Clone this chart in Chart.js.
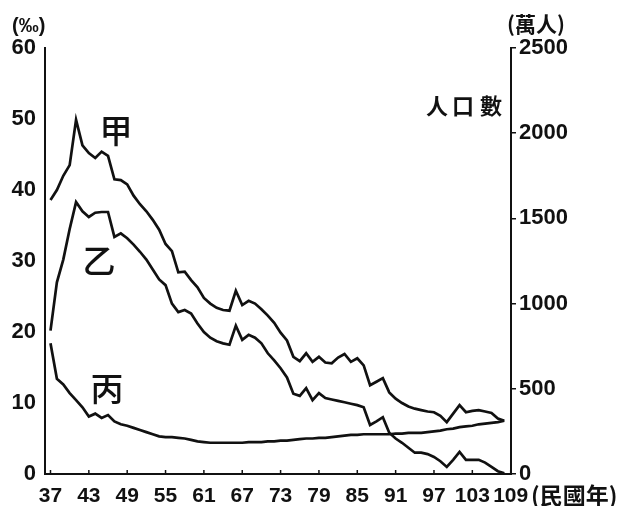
<!DOCTYPE html>
<html>
<head>
<meta charset="utf-8">
<script src="https://cdn.jsdelivr.net/npm/chart.js@4.4.1/dist/chart.umd.min.js"></script>
<style>
  html, body { margin: 0; padding: 0; background: #fff; }
  #wrap { width: 624px; height: 506px; }
</style>
</head>
<body>
<div id="wrap"><canvas id="canvas" width="624" height="506"></canvas></div>
<script>
// 年份（民國）
var years = [37,38,39,40,41,42,43,44,45,46,47,48,49,50,51,52,53,54,55,56,57,58,59,60,61,62,63,64,65,66,67,68,69,70,71,72,
  73,74,75,76,77,78,79,80,81,82,83,84,85,86,87,88,89,90,91,92,93,94,95,96,97,98,99,100,101,102,103,104,105,106,107,108];

// 甲（‰）
var seriesA = [38.6,40.0,42.0,43.5,49.9,46.3,45.2,44.5,45.4,44.8,41.5,41.4,40.8,39.2,38.0,37.0,35.8,34.4,32.4,31.4,28.4,28.5,27.3,26.3,
  24.8,24.0,23.4,23.1,23.0,25.8,23.8,24.4,24.0,23.2,22.3,21.3,19.9,18.8,16.5,15.9,17.0,15.8,16.5,15.7,15.6,16.4,16.9,15.8,
  16.3,15.3,12.5,13.0,13.5,11.5,10.6,10.0,9.5,9.2,9.0,8.8,8.7,8.2,7.3,8.5,9.7,8.7,8.9,9.0,8.8,8.6,7.8,7.5];

// 乙（‰）
var seriesB = [20.2,27.0,30.2,34.5,38.3,37.0,36.2,36.8,36.9,36.9,33.4,33.9,33.2,32.3,31.3,30.2,28.8,27.4,26.6,24.0,22.8,23.1,22.6,21.2,
  20.0,19.2,18.7,18.4,18.2,20.9,18.9,19.6,19.2,18.4,17.0,16.0,14.9,13.6,11.3,11.0,12.1,10.4,11.4,10.7,10.5,10.3,10.1,9.9,
  9.7,9.4,6.9,7.4,8.0,5.8,5.0,4.4,3.7,3.0,3.0,2.8,2.4,1.8,1.0,2.0,3.1,2.0,2.0,2.0,1.6,1.0,0.4,0.1];

// 丙（‰）
var seriesC = [18.4,13.4,12.6,11.4,10.4,9.4,8.1,8.5,7.9,8.3,7.4,7.0,6.8,6.5,6.2,5.9,5.6,5.3,5.2,5.2,5.1,5.0,4.8,4.6,
  4.5,4.4,4.4,4.4,4.4,4.4,4.4,4.5,4.5,4.5,4.6,4.6,4.7,4.7,4.8,4.9,5.0,5.0,5.1,5.1,5.2,5.3,5.4,5.5,
  5.5,5.6,5.6,5.6,5.6,5.6,5.7,5.7,5.8,5.8,5.8,5.9,6.0,6.1,6.3,6.4,6.6,6.7,6.8,7.0,7.1,7.2,7.3,7.5];

// 軸の目盛り
var xTicks = [37,43,49,55,61,67,73,79,85,91,97,103,109];
var leftTicks = [0,10,20,30,40,50,60];
var rightTicks = [0,500,1000,1500,2000,2500];

var numFont = { family: "'Liberation Sans', Arial, sans-serif", size: 22, weight: 'bold' };
var xFont = { family: "'Liberation Sans', Arial, sans-serif", size: 21, weight: 'bold' };
var cjk = "'Noto Sans CJK TC', 'Noto Sans CJK SC', sans-serif";

function toPoints(vals) {
  return years.map(function (yr, i) { return { x: yr, y: vals[i] }; });
}

function lineSet(label, vals) {
  return {
    label: label,
    data: toPoints(vals),
    borderColor: '#111',
    borderWidth: 2.7,
    pointRadius: 0,
    tension: 0,
    fill: false,
    yAxisID: 'y'
  };
}

function plain(v) { return String(v); }

// 文字と内向きの目盛り
var extras = {
  id: 'extras',
  afterDraw: function (chart) {
    var ctx = chart.ctx;
    var xs = chart.scales.x;
    var area = chart.chartArea;
    ctx.save();
    ctx.strokeStyle = '#111';
    ctx.lineWidth = 1.5;
    xTicks.forEach(function (v) {
      var px = xs.getPixelForValue(v);
      ctx.beginPath();
      ctx.moveTo(px, area.bottom);
      ctx.lineTo(px, area.bottom - 4);
      ctx.stroke();
    });

    ctx.fillStyle = '#111';
    ctx.textBaseline = 'middle';
    ctx.textAlign = 'left';
    ctx.font = "bold 20px 'Liberation Sans', Arial, sans-serif";
    ctx.fillText('(‰)', 12, 26);

    ctx.font = 'bold 21px ' + cjk;
    ctx.fillText('(萬人)', 507, 24);

    ctx.font = 'bold 23px ' + cjk;
    ctx.fillText('(民國年)', 531, 495);

    ctx.textAlign = 'center';
    ctx.font = 'bold 22px ' + cjk;
    ctx.fillText('人', 437, 106);
    ctx.fillText('口', 463, 106);
    ctx.fillText('數', 491, 106);

    ctx.font = '500 33px ' + cjk;
    ctx.fillText('甲', 116, 130);
    ctx.fillText('乙', 99, 260);
    ctx.fillText('丙', 107, 388);
    ctx.restore();
  }
};

var ctx = document.getElementById('canvas').getContext('2d');
window.myChart = new Chart(ctx, {
  type: 'line',
  data: {
    datasets: [
      lineSet('甲', seriesA),
      lineSet('乙', seriesB),
      lineSet('丙', seriesC)
    ]
  },
  options: {
    responsive: false,
    animation: false,
    layout: { padding: { top: 48, left: 0, right: 0, bottom: 0 } },
    plugins: { legend: { display: false }, tooltip: { enabled: false } },
    scales: {
      x: {
        type: 'linear',
        position: 'bottom',
        min: 36.14,
        max: 109.05,
        afterBuildTicks: function (scale) {
          scale.ticks = xTicks.map(function (v) { return { value: v }; });
        },
        afterFit: function (scale) { scale.height = 32; },
        grid: { display: false, drawTicks: false },
        border: { display: true, color: '#111', width: 2 },
        ticks: { color: '#111', font: xFont, padding: 10, maxRotation: 0, autoSkip: false, callback: plain }
      },
      y: {
        position: 'left',
        min: 0,
        max: 60,
        afterBuildTicks: function (scale) {
          scale.ticks = leftTicks.map(function (v) { return { value: v }; });
        },
        afterFit: function (scale) { scale.width = 45; },
        grid: { display: false, drawTicks: false },
        border: { display: true, color: '#111', width: 2 },
        ticks: { color: '#111', font: numFont, padding: 9, callback: plain }
      },
      y2: {
        position: 'right',
        min: 0,
        max: 2500,
        afterBuildTicks: function (scale) {
          scale.ticks = rightTicks.map(function (v) { return { value: v }; });
        },
        afterFit: function (scale) { scale.width = 113; },
        grid: { display: true, drawOnChartArea: false, drawTicks: true, tickLength: 5, color: '#111', lineWidth: 1.5 },
        border: { display: true, color: '#111', width: 2 },
        ticks: { color: '#111', font: numFont, padding: 3, callback: plain }
      }
    }
  },
  plugins: [extras]
});
</script>
</body>
</html>
